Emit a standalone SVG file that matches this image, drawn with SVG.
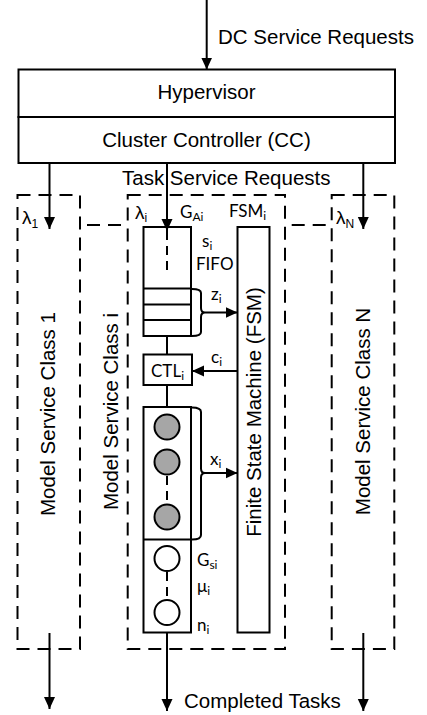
<svg xmlns="http://www.w3.org/2000/svg" width="427" height="715" viewBox="0 0 427 715">
<defs>
<style>
.ln{stroke:#000;stroke-width:2;fill:none}
.dl{stroke:#000;stroke-width:2;fill:none;stroke-dasharray:13 8}
.dq{stroke:#000;stroke-width:2;fill:none;stroke-dasharray:9 6}
.bx{stroke:#000;stroke-width:2;fill:#fff}
.t{font-family:"Liberation Sans",Arial,sans-serif;font-size:20.5px;fill:#000}
.s{font-family:Lato,"Noto Sans",sans-serif;font-size:17px;fill:#000}
.g{font-family:"Liberation Sans",Arial,sans-serif;font-size:19px;fill:#000}
.sub{font-size:12px}
.gc{fill:#a6a6a6;stroke:#000;stroke-width:2}
.wc{fill:#fff;stroke:#000;stroke-width:2}
</style>
<marker id="ah" viewBox="0 0 12 12" refX="12" refY="6" markerWidth="12" markerHeight="12" markerUnits="userSpaceOnUse" orient="auto">
<path d="M0,0.5 L12,6 L0,11.5 z" fill="#000"/>
</marker>
</defs>
<rect width="427" height="715" fill="#fff"/>

<g id="dc-label"><text class="t" x="218" y="44">DC Service Requests</text></g>

<g id="hypervisor">
<rect class="bx" x="18.5" y="69.5" width="376.5" height="47.5"/>
<text class="t" x="206.5" y="99" text-anchor="middle">Hypervisor</text>
</g>
<g id="cc">
<rect class="bx" x="18.5" y="117" width="376.5" height="46"/>
<text class="t" x="206.5" y="146.5" text-anchor="middle">Cluster Controller (CC)</text>
</g>

<g id="task-label"><text class="t" x="122" y="185">Task Service Requests</text></g>

<g id="class1">
<rect class="dl" x="17.5" y="195" width="62.5" height="454"/>
<text class="t" transform="translate(55,414) rotate(-90)" text-anchor="middle">Model Service Class 1</text>
<text class="g" x="22" y="224">λ<tspan class="sub" dy="4">1</tspan></text>
</g>

<g id="classi">
<rect class="dl" x="127.7" y="195" width="157.3" height="454"/>
<text class="t" transform="translate(118,411.5) rotate(-90)" text-anchor="middle">Model Service Class i</text>
<text class="g" x="135" y="219">λ<tspan class="sub" dy="3">i</tspan></text>
<text class="s" x="180" y="218">G<tspan class="sub" dy="3">Ai</tspan></text>
<text class="s" x="229" y="217">FSM<tspan class="sub" dy="3">i</tspan></text>
</g>

<g id="classN">
<rect class="dl" x="331.7" y="195" width="62.6" height="454"/>
<text class="t" transform="translate(370,411.5) rotate(-90)" text-anchor="middle">Model Service Class N</text>
<text class="g" x="336" y="224">λ<tspan class="sub" dy="4">N</tspan></text>
</g>

<g id="queue">
<rect class="bx" x="143.5" y="227" width="47.5" height="109"/>
<line class="ln" x1="143.5" y1="288.5" x2="191" y2="288.5"/>
<line class="ln" x1="143.5" y1="304.5" x2="191" y2="304.5"/>
<line class="ln" x1="143.5" y1="320" x2="191" y2="320"/>
<line class="dq" x1="167" y1="231" x2="167" y2="274"/>
<text class="s" x="202" y="247">s<tspan class="sub" dy="3">i</tspan></text>
<text class="s" x="196" y="270">FIFO</text>
</g>

<g id="ctl">
<rect class="bx" x="143.5" y="354.5" width="48.5" height="30.5"/>
<text class="s" x="151" y="376.5">CTL<tspan class="sub" dy="3">i</tspan></text>
</g>

<g id="servers">
<rect class="bx" x="143.5" y="407" width="47.5" height="225.5"/>
<line class="ln" x1="143.5" y1="539.5" x2="191" y2="539.5"/>
<circle class="gc" cx="167" cy="427" r="12.5"/>
<circle class="gc" cx="167" cy="462" r="12.5"/>
<circle class="gc" cx="167" cy="517" r="12.5"/>
<line class="dq" x1="167" y1="476" x2="167" y2="504" stroke-dasharray="8 5"/>
<circle class="wc" cx="167" cy="558.5" r="12.5"/>
<circle class="wc" cx="167" cy="612.5" r="12.5"/>
<line class="dq" x1="167" y1="572" x2="167" y2="600" stroke-dasharray="8 5"/>
<text class="s" x="197" y="566">G<tspan class="sub" dy="3">si</tspan></text>
<text class="s" x="197" y="592">μ<tspan class="sub" dy="3">i</tspan></text>
<text class="s" x="197" y="631">n<tspan class="sub" dy="3">i</tspan></text>
</g>

<g id="fsm">
<rect class="bx" x="237.5" y="227" width="32" height="405.5"/>
<text class="t" transform="translate(261,412) rotate(-90)" text-anchor="middle">Finite State Machine (FSM)</text>
</g>

<g id="connectors">
<line class="ln" x1="206.7" y1="0" x2="206.7" y2="69.5" marker-end="url(#ah)"/>
<line class="ln" x1="49.5" y1="163" x2="49.5" y2="229" marker-end="url(#ah)"/>
<line class="ln" x1="167" y1="163" x2="167" y2="231" marker-end="url(#ah)"/>
<line class="ln" x1="363.3" y1="163" x2="363.3" y2="229" marker-end="url(#ah)"/>
<line class="dl" x1="87" y1="225" x2="127.7" y2="225" stroke-dasharray="9 6"/>
<line class="dl" x1="291.7" y1="225" x2="331.7" y2="225" stroke-dasharray="9 6"/>
<line class="ln" x1="167" y1="336" x2="167" y2="354.5"/>
<line class="ln" x1="167" y1="385" x2="167" y2="407"/>
<path class="ln" d="M192,289 Q201,289 201,293 L201,308 Q201,312.5 205,312.5 Q201,312.5 201,317 L201,332 Q201,336 192,336"/>
<line class="ln" x1="205" y1="312.5" x2="237.5" y2="312.5" marker-end="url(#ah)"/>
<text class="s" x="211" y="300">z<tspan class="sub" dy="3">i</tspan></text>
<line class="ln" x1="237.5" y1="371" x2="192" y2="371" marker-end="url(#ah)"/>
<text class="s" x="211" y="363">c<tspan class="sub" dy="3">i</tspan></text>
<path class="ln" d="M192,407.5 Q201,407.5 201,412 L201,468.5 Q201,473 205,473 Q201,473 201,477.5 L201,535 Q201,539.5 192,539.5"/>
<line class="ln" x1="205" y1="473" x2="237.5" y2="473" marker-end="url(#ah)"/>
<text class="s" x="210" y="465">x<tspan class="sub" dy="3">i</tspan></text>
<line class="ln" x1="49.5" y1="633" x2="49.5" y2="709" marker-end="url(#ah)"/>
<line class="ln" x1="167" y1="632.5" x2="167" y2="711" marker-end="url(#ah)"/>
<line class="ln" x1="363.3" y1="633" x2="363.3" y2="711" marker-end="url(#ah)"/>
</g>

<g id="completed-label"><text class="t" x="184" y="708">Completed Tasks</text></g>
</svg>
